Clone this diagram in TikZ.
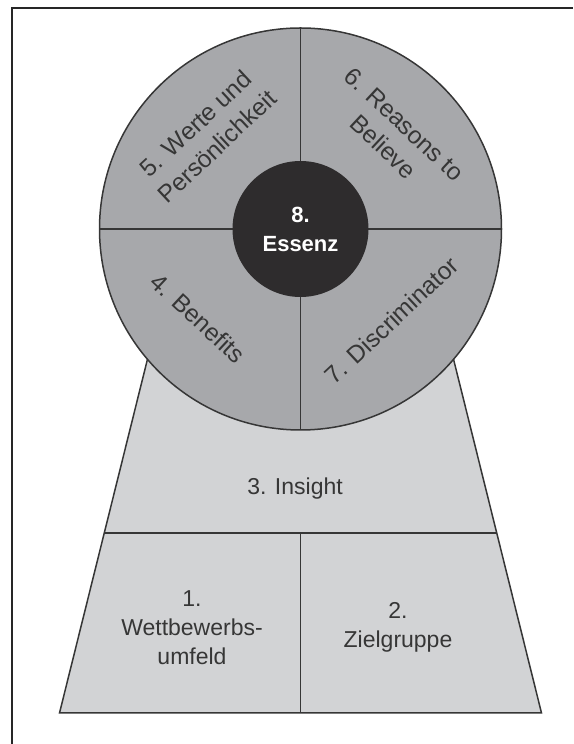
\documentclass[tikz,border=0pt]{standalone}
\usepackage{fontspec}
\setmainfont{Liberation Sans}
\usepackage{tikz}
\usetikzlibrary{calc}
\tikzset{>=latex}
\tikzset{font=\fontsize{23}{29}\selectfont}
\definecolor{wheelgray}{HTML}{A7A8AB}
\definecolor{basegray}{HTML}{D2D3D5}
\definecolor{coredark}{HTML}{2E2C2D}
\definecolor{inkgray}{HTML}{363636}
\tikzset{segtext/.style={text=inkgray, align=center, inner sep=0pt}}
\tikzset{wheeltext/.style={segtext, font=\fontsize{24.5}{31}\selectfont}}
\tikzset{segline/.style={draw=inkgray, line width=1.5pt}}

\begin{document}
\begin{tikzpicture}[x=1pt, y=1pt]
  \useasboundingbox (0,0) rectangle (573,744);%
  % frame (top and left edge only)
  \draw[line width=2pt, black!85] (11.5,0) -- (11.5,735.5) -- (573,735.5);%
  % base trapezoid
  \filldraw[fill=basegray, segline] (59.5,31) -- (162.2,444) -- (438.8,444) -- (541.5,31) -- cycle;%
  \draw[segline, line width=2pt] (104.2,211) -- (496.8,211);%
  \draw[segline] (300.5,31) -- (300.5,211);%
  % wheel with four quarters
  \coordinate (c) at (300.5,515);%
  \filldraw[fill=wheelgray, segline] (c) circle (201);%
  \draw[segline] (c) ++(-201,0) -- ++(402,0);%
  \draw[segline] (c) ++(0,-201) -- ++(0,402);%
  \fill[coredark] (c) circle (68);%
  % labels
  \node[segtext] (insight) at (295,255) {3. Insight};%
  \node[segtext] (umfeld) at (192,116) {1.\\Wettbewerbs-\\umfeld};%
  \node[segtext] (zielgruppe) at (398,117) {2.\\Zielgruppe};%
  \node[wheeltext, rotate=43] (werte) at ($(c)+(135:133)$) {5. Werte und\\Persönlichkeit};%
  \node[wheeltext, rotate=-43] (reasons) at ($(c)+(45:132)$) {6. Reasons to\\Believe};%
  \node[wheeltext, rotate=-43] (benefits) at ($(c)+(-139:136)$) {4. Benefits};%
  \node[wheeltext, rotate=43] (discriminator) at ($(c)+(-45:129)$) {7. Discriminator};%
  \node[segtext, text=white, font=\fontsize{22}{29}\selectfont\bfseries] (essenz) at (c) {8.\\Essenz};%
\end{tikzpicture}
\end{document}
